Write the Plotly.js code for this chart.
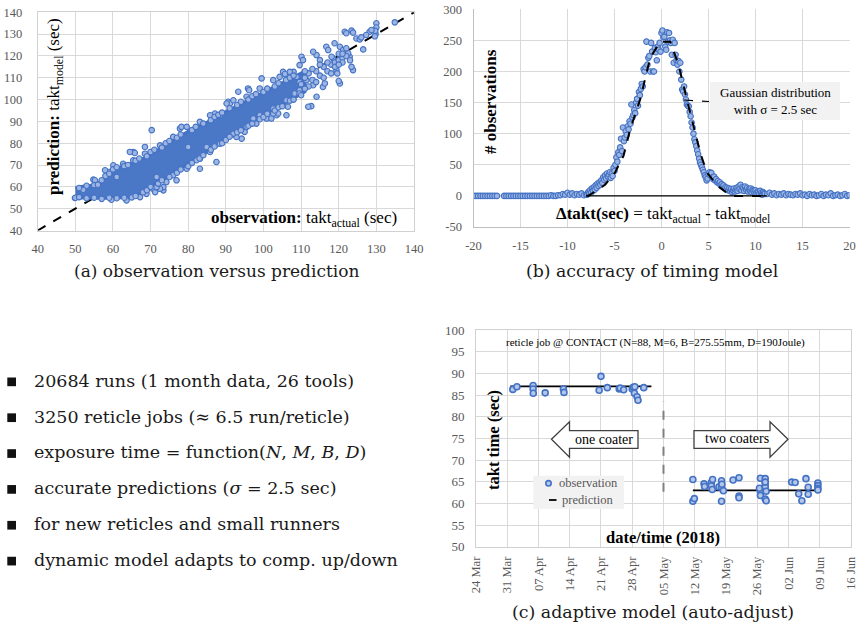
<!DOCTYPE html>
<html>
<head>
<meta charset="utf-8">
<script src="https://cdn.plot.ly/plotly-3.0.1.min.js"></script>
<style>html,body{margin:0;padding:0;background:#fff;}#chart{width:858px;height:625px;}</style>
</head>
<body>
<div id="chart"></div>
<script>
// ---------- Panel (a): observation vs prediction ----------
const diagX = [40, 140];
const diagY = [40, 140];
// dense core of the scatter cloud (outline)
const coreX = [50,52,55,57,58,60,62,65,68,70,73,76,80,83,86,90,94,98,102,106,109,111,111,108,105,102,98,94,90,86,82,78,74,70,67,65,60,55,50];
const coreY = [59.5,60.3,60.8,62.5,64.5,67.5,69,71,73,75,78,81.5,85.5,88,90.5,94.5,98,101.5,105,108.5,111,113,103.5,100.5,97.5,94,89.5,86,81.5,77,72.5,68.5,64,60,56.5,55.3,54.8,54.8,55];
// individual points around the core and outliers
const obsX = [134.9,130,130,129.8,129.6,129.7,128.2,128.7,127.3,126.5,124.7,125.6,126,121.6,122,123.8,123.4,122.9,122.5,120.3,120,119.4,119.6,120.3,121.2,122,116.7,117.2,114.1,115,113.2,114.1,112.7,111.9,115.8,116.3,110.1,110.5,108,108.8,105.2,105.7,106.5,106.1,103.5,103.9,100.8,102.1,99.5,98.1,95.9,96.2,93.3,94.2,90.6,91.1,88.4,87.1,87.5,83.1,80,77.8,78.2,70.3,76.9,73.4,73.4,72.5,70.7,71.2,71.6,68.5,65.4,65.8,64.5,61,58.8,54.8,55.2,51.2,52.1,49.9,59.6,83.1,84.9,92.8,95,97.3,102.6,108.3,109.6,109.6,111.4,118.5,118.1,118.9,123.4,123.8,
  57.9,60.1,62.7,65.4,68.5,72.5,76,79.6,83.1,85.8,90.2,92,95.5,99,102.6,104.3,107,109.6,
  63.6,67.2,68.9,71.6,74.2,76,79.6,82.2,85.8,88.4,92,95.5,99,102.6,106.1,109.6,113.2,
  111,112,113,114,115,116,117,118,119,120,121,117,115,113,111,112,114,116,118,119,120,121,122,123,110,111,120,121,
  51,53,55,56,57,58,59,60,61,63,64,66,67,69,70,71,73,74,75,77,78,81,82,84,86,87,88,89,91,93,94,96,97,98,100,101,103,104,106,107,108,
  50,51,53,55,57,59,61,63,65,66,68,69,70,72,73,75,77,78,80,81,83,84,86,87,89,90,91,93,94,96,97,99,100,101,103,104,105,107,108,110];
const predY = [135.4,135,133,130,129,131.5,131.1,131.9,129.6,123,128,127.6,128.5,131.1,130.4,113.5,115,119.6,121.2,107.4,108.5,113.5,112,124.2,122.7,123.5,124.2,122.7,120.4,118.1,121.9,101.3,97,96.7,105.8,107.4,119.6,118.1,112.7,110.4,112.7,111.7,96.7,92.8,92.8,93.6,91.3,91.3,109.7,89,105.1,104.3,103.6,82.1,99,98.2,92.8,93.6,71.4,72.9,78.3,86.7,87.5,86,63,58.4,59.9,59.1,59.1,57.6,64.5,78.3,76,75.5,76,64.5,66.8,63.3,63,59.1,58.7,54.9,54.1,68.3,78.3,82.9,85.2,91.3,93.6,102.8,104.3,108.1,108.9,118.9,119.6,125.8,131.6,130.7,
  67.6,69.9,70.6,72.2,75.2,79,82.9,87.5,89.8,92.8,98.2,99.7,101.3,105.1,108.9,110.4,112.7,115.8,
  53.8,55.3,56.8,59.9,62.2,65.3,68.3,72.2,76,79.8,84.4,87.5,92.8,95.9,99.7,102.8,106.6,
  110,112,109,113,111,115,113,116,117,118,119,117,116,114,113,106,108,110,112,115,121,117,120,118,107,105,116,121,
  59.5,60.5,60.8,61,63,65,66,68,69,69.5,70,72,73,74,76,77,78,80,81,82.5,84,86,87.5,89,90.5,92,93,94,96,97.5,99,100,101.5,102.5,103.5,105,106,107.5,109,110,111,
  55,55.3,54.8,55,54.5,55,54.8,55,55.2,55.8,57.5,58.5,60,61.5,63,64.5,66.5,68,69.5,71,73,74.5,77,78.5,80,81.5,83,85,86,88,89,91,92,93.5,95,96.5,97,99.5,100,102];

// ---------- Panel (b): accuracy of timing model ----------
const dtX = [-20,-19.75,-19.5,-19.25,-19,-18.75,-18.5,-18.25,-18,-17.75,-17.5,-16.75,-16.5,-16.25,-16,-15.75,-15.5,-15.25,-15,-14.75,-14.5,-14.25,-14,-13.75,-13.5,-13.25,-13,-12.75,-12.5,-12.25,-12,-11.75,-11.5,-11.25,-11,-10.75,-10.5,-10.25,-10,-9.75,-9.5,-9.25,-9,-8.75,-8.5,-8.25,-8,
  -7.9,-7.8,-7.7,-7.6,-7.5,-7.4,-7.3,-7.2,-7.1,-7.0,-6.9,-6.8,-6.7,-6.6,-6.5,-6.4,-6.3,-6.2,-6.1,-6.0,-5.9,-5.8,-5.7,-5.6,-5.5,-5.4,-5.3,-5.2,-5.1,-5.0,-4.9,-4.8,-4.7,-4.6,-4.5,-4.4,-4.3,-4.2,-4.1,-4.0,-3.9,-3.8,-3.7,-3.6,-3.5,-3.4,-3.3,-3.2,-3.1,-3.0,-2.9,-2.8,-2.7,-2.6,-2.5,-2.4,-2.3,-2.2,-2.1,-2.0,-1.9,-1.8,-1.7,-1.6,-1.5,-1.4,-1.3,-1.2,-1.1,-1.0,-0.9,-0.8,-0.7,-0.6,-0.5,-0.4,-0.3,-0.2,-0.1,0.0,0.1,0.2,0.3,0.4,0.5,0.6,0.7,0.8,0.9,1.0,1.1,1.2,1.3,1.4,1.5,1.6,1.7,1.8,1.9,2.0,2.1,2.2,2.3,2.4,2.5,2.6,2.7,2.8,2.9,3.0,3.1,3.2,3.3,3.4,3.5,3.6,3.7,3.8,3.9,4.0,4.1,4.2,4.3,4.4,4.5,4.6,4.7,4.8,4.9,5.0,5.1,5.2,5.3,5.4,5.5,5.6,5.7,5.8,5.9,6.0,6.1,6.2,6.3,6.4,6.5,6.6,6.7,6.8,6.9,7.0,7.1,7.2,7.3,7.4,7.5,7.6,7.7,7.8,7.9,8.0,8.1,8.2,8.3,8.4,8.5,8.6,8.7,8.8,8.9,9.0,9.1,9.2,9.3,9.4,9.5,9.6,9.7,9.8,9.9,10.0,10.1,10.2,10.3,10.4,10.5,10.6,10.7,10.8,10.9,11.0,
  11.25,11.5,11.75,12,12.25,12.5,12.75,13,13.25,13.5,13.75,14,14.25,14.5,14.75,15,15.25,15.5,15.75,16,16.25,16.5,16.75,17,17.25,17.5,17.75,18,18.25,18.5,18.75,19,19.25,19.5,19.75,20];
const dtCount = [0,0,0,0,0,0,0,0,0,0,0,0,0,0,0,0,0,0,0,0,0,0,0,0,0,0,0,0,0,0,0,1,0,0,1,1,3,2,5,2,4,1,3,2,4,1,2,
  2,6,4,9,5,12,8,14,10,17,13,20,16,22,18,25,21,30,26,33,28,36,31,34,38,29,36,32,45,40,50,62,55,70,66,78,92,72,110,88,94,104,98,112,107,120,116,147,126,130,138,133,150,156,145,167,162,172,180,176,204,200,207,248,211,222,225,200,246,232,200,200,238,231,218,240,235,246,232,262,266,255,256,240,235,263,248,262,250,246,227,251,214,246,227,218,211,217,200,214,187,171,168,176,163,155,147,145,144,135,128,118,110,100,91,86,80,73,67,60,54,50,46,42,38,33,30,25,28,35,38,33,37,30,27,31,25,27,22,24,20,22,17,19,15,17,12,14,10,13,9,12,8,11,6,9,12,7,10,13,8,15,11,18,9,14,12,8,15,10,13,7,11,9,12,6,10,8,5,9,4,7,6,3,8,5,2,6,4,3,
  3,5,2,4,1,3,2,4,1,3,2,1,3,2,4,1,2,0,3,1,2,0,1,3,0,2,1,4,0,1,2,0,1,3,0,1];
const gaussX = [-8,-7.77,-6.9,-6,-4.93,-4.04,-3.33,-2.27,-1.2,-0.14,0.92,1.81,2.7,3.4,4.11,4.82,5.89,7.3,7.6,11];
const gaussY = [0,0.6,8.6,18,38,64.5,107,155,222,248,248,211,155,112,70,38,17,1,0,0];
const zeroX = [-8, 11.2];
const zeroY = [0, 0];

// ---------- Panel (c): adaptive model ----------
const runDates = ['2018-04-01 06:00','2018-04-02 04:00','2018-04-05 19:00','2018-04-05 19:00','2018-04-05 20:00','2018-04-08 12:00','2018-04-12 14:00','2018-04-12 17:00','2018-04-20 14:00','2018-04-21 00:00','2018-04-22 10:00','2018-04-25 02:00','2018-04-25 07:00','2018-04-26 02:00','2018-04-28 00:00','2018-04-28 05:00','2018-04-28 14:00','2018-04-28 12:00','2018-04-29 02:00','2018-04-29 07:00','2018-04-30 14:00',
  '2018-05-11 14:00','2018-05-11 14:00','2018-05-11 22:00','2018-05-14 02:00','2018-05-14 05:00','2018-05-15 17:00','2018-05-15 17:00','2018-05-16 00:00','2018-05-15 22:00','2018-05-17 10:00','2018-05-18 00:00','2018-05-18 00:00','2018-05-18 00:00','2018-05-18 10:00','2018-05-18 02:00','2018-05-20 14:00','2018-05-21 22:00','2018-05-21 22:00','2018-05-21 22:00','2018-05-26 17:00','2018-05-26 17:00','2018-05-26 17:00','2018-05-26 12:00','2018-05-27 19:00','2018-05-27 19:00','2018-05-27 19:00','2018-05-27 19:00','2018-05-27 19:00','2018-05-28 00:00','2018-05-28 00:00','2018-06-02 17:00','2018-06-03 12:00','2018-06-04 07:00','2018-06-05 00:00','2018-06-05 22:00','2018-06-06 10:00','2018-06-06 10:00','2018-06-08 14:00','2018-06-08 14:00','2018-06-08 14:00','2018-06-08 14:00'];
const runTakt = [86.3,86.9,87.2,86.4,85.4,85.5,86.4,85.6,86.1,89.3,86.7,86.4,86.6,86.2,86.4,86.8,86.9,85.4,84.6,83.8,86.7,
  65.5,60.5,61.1,64.5,63.9,64.8,64.0,65.5,63.2,63.8,65.2,63.7,60.5,62.9,64.4,65.4,65.9,61.7,61.3,65.8,62.6,61.8,63.5,65.7,64.6,63.8,61.0,64.9,60.6,62.8,64.9,64.8,62.2,60.6,65.7,63.7,62.1,64.7,64.1,63.5,63.1];
const modelDates = ['2018-03-31 16:00','2018-05-02 07:00',null,'2018-05-11 14:00','2018-06-08 14:00'];
const modelTakt = [87, 87, null, 63, 63];
const switchDates = ['2018-05-05','2018-05-05'];
const switchTakt = [62.7, 83.5];

const ticksA = [40,50,60,70,80,90,100,110,120,130,140];
const ticksBx = [-20,-15,-10,-5,0,5,10,15,20];
const ticksBxText = ['-20','-15','-10','-5','0','5','10','15','20'];
const ticksBy = [-50,0,50,100,150,200,250,300];
const ticksByText = ['-50','0','50','100','150','200','250','300'];
const ticksCx = ['2018-03-24','2018-03-31','2018-04-07','2018-04-14','2018-04-21','2018-04-28','2018-05-05','2018-05-12','2018-05-19','2018-05-26','2018-06-02','2018-06-09','2018-06-16'];
const ticksCxText = ['24 Mar','31 Mar','07 Apr','14 Apr','21 Apr','28 Apr','05 May','12 May','19 May','26 May','02 Jun','09 Jun','16 Jun'];
const ticksCy = [50,55,60,65,70,75,80,85,90,95,100];
const bullets = [
  '20684 runs (1 month data, 26 tools)',
  '3250 reticle jobs (≈ 6.5 run/reticle)',
  'exposure time = function(<i>N</i>, <i>M</i>, <i>B</i>, <i>D</i>)',
  'accurate predictions (<i>σ</i> = 2.5 sec)',
  'for new reticles and small runners',
  'dynamic model adapts to comp. up/down'
];
const captions = ['(a) observation versus prediction', '(b) accuracy of timing model', '(c) adaptive model (auto-adjust)'];

// ---------- helpers (pixel -> paper) ----------
const W = 858, H = 625;
const px = x => x / W;
const py = y => 1 - y / H;
const P = (x, y) => px(x).toFixed(5) + ',' + py(y).toFixed(5);

const BLUE = '#4472C4';
const FILL = '#9db5e2';
const serif = 'Liberation Serif, Times New Roman, serif';
const capFont = 'DejaVu Serif, serif';
const tf = (s) => ({family: serif, size: s, color: '#595959'});

const traces = [
  {x: diagX, y: diagY, xaxis: 'x', yaxis: 'y', mode: 'lines', line: {color: '#000', width: 2, dash: 'dash'}, hoverinfo: 'skip'},
  {x: coreX, y: coreY, xaxis: 'x', yaxis: 'y', mode: 'lines', fill: 'toself', fillcolor: '#4a77c6', line: {color: BLUE, width: 3}, hoverinfo: 'skip'},
  {x: obsX, y: predY, xaxis: 'x', yaxis: 'y', mode: 'markers', marker: {size: 5.5, color: FILL, line: {color: BLUE, width: 1.1}}},
  {x: dtX, y: dtCount, xaxis: 'x2', yaxis: 'y2', mode: 'markers', marker: {size: 5.5, color: FILL, line: {color: BLUE, width: 1.1}}},
  {x: zeroX, y: zeroY, xaxis: 'x2', yaxis: 'y2', mode: 'lines', line: {color: '#000', width: 1.2}},
  {x: gaussX, y: gaussY, xaxis: 'x2', yaxis: 'y2', mode: 'lines', line: {color: '#000', width: 2, dash: 'dash'}},
  {x: modelDates, y: modelTakt, xaxis: 'x3', yaxis: 'y3', mode: 'lines', line: {color: '#000', width: 1.8}, connectgaps: false},
  {x: switchDates, y: switchTakt, xaxis: 'x3', yaxis: 'y3', mode: 'lines', line: {color: '#808080', width: 2, dash: 'dash'}},
  {x: runDates, y: runTakt, xaxis: 'x3', yaxis: 'y3', mode: 'markers', marker: {size: 6, color: '#b4c7ea', line: {color: BLUE, width: 1.6}}}
];

const axBase = () => ({
  gridcolor: '#d9d9d9', gridwidth: 1, zeroline: false, showline: true, linecolor: '#d0d0d0', linewidth: 1,
  ticks: '', fixedrange: true, ticklabeloverflow: 'allow'
});

const annotations = [];
const shapes = [];
const txt = (x, y, text, size, extra) => Object.assign({xref: 'paper', yref: 'paper', x: px(x), y: py(y), text: text, showarrow: false, font: {family: serif, size: size, color: '#000'}, xanchor: 'center', yanchor: 'middle'}, extra || {});

// Panel (a) texts
annotations.push(txt(55, 106, '<b>prediction:</b> takt<sub>model</sub> (sec)', 17, {textangle: -90}));
annotations.push(txt(304, 219, '<b>observation:</b> takt<sub>actual</sub> (sec)', 17));

// Panel (b) texts
annotations.push(txt(490, 102, '<b># observations</b>', 17, {textangle: -90}));
annotations.push(txt(663, 215, '<b>Δtakt(sec)</b> = takt<sub>actual</sub> - takt<sub>model</sub>', 17));
shapes.push({type: 'rect', xref: 'paper', yref: 'paper', x0: px(710), x1: px(840), y0: py(120), y1: py(82), fillcolor: '#f2f2f2', line: {width: 0}, layer: 'above'});
shapes.push({type: 'line', xref: 'paper', yref: 'paper', x0: px(684), y0: py(100), x1: px(709), y1: py(101.5), line: {color: '#000', width: 1.2, dash: 'dash'}, layer: 'above'});
annotations.push(txt(775, 101, 'Gaussian distribution<br>with σ = 2.5 sec', 13, {align: 'center'}));

// Panel (c) texts
annotations.push(txt(655, 342.5, 'reticle job @ CONTACT (N=88, M=6, B=275.55mm, D=190Joule)', 11));
annotations.push(txt(493, 440, '<b>takt time (sec)</b>', 16.5, {textangle: -90}));
annotations.push(txt(663, 537, '<b>date/time (2018)</b>', 16.5));
// arrows
shapes.push({type: 'path', xref: 'paper', yref: 'paper', path: 'M' + P(551.5, 439.3) + 'L' + P(569.5, 421.7) + 'L' + P(569.5, 430.7) + 'L' + P(638, 430.7) + 'L' + P(638, 448.3) + 'L' + P(569.5, 448.3) + 'L' + P(569.5, 457.3) + 'Z', fillcolor: '#fff', line: {color: '#404040', width: 1.3}, layer: 'above'});
shapes.push({type: 'path', xref: 'paper', yref: 'paper', path: 'M' + P(788, 439.3) + 'L' + P(770, 421.7) + 'L' + P(770, 430.7) + 'L' + P(694, 430.7) + 'L' + P(694, 448.3) + 'L' + P(770, 448.3) + 'L' + P(770, 457.3) + 'Z', fillcolor: '#fff', line: {color: '#404040', width: 1.3}, layer: 'above'});
annotations.push(txt(604, 439.5, 'one coater', 14));
annotations.push(txt(737, 438.5, 'two coaters', 14));
// legend box
shapes.push({type: 'rect', xref: 'paper', yref: 'paper', x0: px(533.3), x1: px(624), y0: py(509), y1: py(475.7), fillcolor: '#f2f2f2', line: {width: 0}, layer: 'above'});
shapes.push({type: 'circle', xref: 'paper', yref: 'paper', x0: px(545.8), x1: px(551.2), y0: py(486), y1: py(480.6), fillcolor: '#b4c7ea', line: {color: BLUE, width: 1.6}, layer: 'above'});
shapes.push({type: 'line', xref: 'paper', yref: 'paper', x0: px(549), x1: px(556.5), y0: py(500), y1: py(500), line: {color: '#000', width: 1.8}, layer: 'above'});
annotations.push(txt(556.5, 483.5, 'observation', 12.5, {xanchor: 'left', font: tf(12.5)}));
annotations.push(txt(559.5, 500, 'prediction', 12.5, {xanchor: 'left', font: tf(12.5)}));

// captions
const capPos = [[216, 271, 17], [652.5, 271, 17.3], [652.5, 612, 17.4]];
captions.forEach((c, i) => {
  annotations.push(txt(capPos[i][0], capPos[i][1], c, capPos[i][2], {font: {family: capFont, size: capPos[i][2], color: '#1a1a1a'}}));
});
// bullets
bullets.forEach((b, i) => {
  const cy = 380.7 + i * 35.85;
  annotations.push(txt(31.7, cy, b, 17.5, {xanchor: 'left', font: {family: capFont, size: 17.5, color: '#1a1a1a'}}));
  shapes.push({type: 'rect', xref: 'paper', yref: 'paper', x0: px(7.3), x1: px(16), y0: py(cy + 5.5), y1: py(cy - 3.2), fillcolor: '#111', line: {width: 0}});
});

const layout = {
  width: W, height: H,
  margin: {l: 0, r: 0, t: 0, b: 0},
  paper_bgcolor: '#fff', plot_bgcolor: '#fff',
  showlegend: false,
  font: {family: serif, color: '#595959', size: 12.5},
  xaxis: Object.assign(axBase(), {domain: [px(37.7), px(414)], range: [40, 140], tickmode: 'array', tickvals: ticksA, anchor: 'y', mirror: true, ticklabelstandoff: 6, tickfont: tf(12.5)}),
  yaxis: Object.assign(axBase(), {domain: [py(230.5), py(12.3)], range: [40, 140], tickmode: 'array', tickvals: ticksA, anchor: 'x', mirror: true, ticklabelstandoff: 12, tickfont: tf(12.5)}),
  xaxis2: Object.assign(axBase(), {domain: [px(473.5), px(849.5)], range: [-20, 20], tickmode: 'array', tickvals: ticksBx, ticktext: ticksBxText, anchor: 'y2', ticklabelstandoff: 7, linecolor: '#bfbfbf', tickfont: tf(12.5)}),
  yaxis2: Object.assign(axBase(), {domain: [py(227), py(9.3)], range: [-50, 300], tickmode: 'array', tickvals: ticksBy, ticktext: ticksByText, anchor: 'x2', ticklabelstandoff: 8, linecolor: '#bfbfbf', tickfont: tf(12.5)}),
  xaxis3: Object.assign(axBase(), {type: 'date', domain: [px(476), px(851)], range: ['2018-03-24', '2018-06-16 00:05'], tickmode: 'array', tickvals: ticksCx, ticktext: ticksCxText, tickangle: -90, anchor: 'y3', mirror: true, ticklabelstandoff: 4, tickfont: tf(12.5)}),
  yaxis3: Object.assign(axBase(), {domain: [py(546.7), py(330)], range: [50, 100], tickmode: 'array', tickvals: ticksCy, anchor: 'x3', mirror: true, ticklabelstandoff: 8, tickfont: tf(13)}),
  annotations: annotations,
  shapes: shapes
};

Plotly.newPlot('chart', traces, layout, {displayModeBar: false, staticPlot: true});
</script>
</body>
</html>
